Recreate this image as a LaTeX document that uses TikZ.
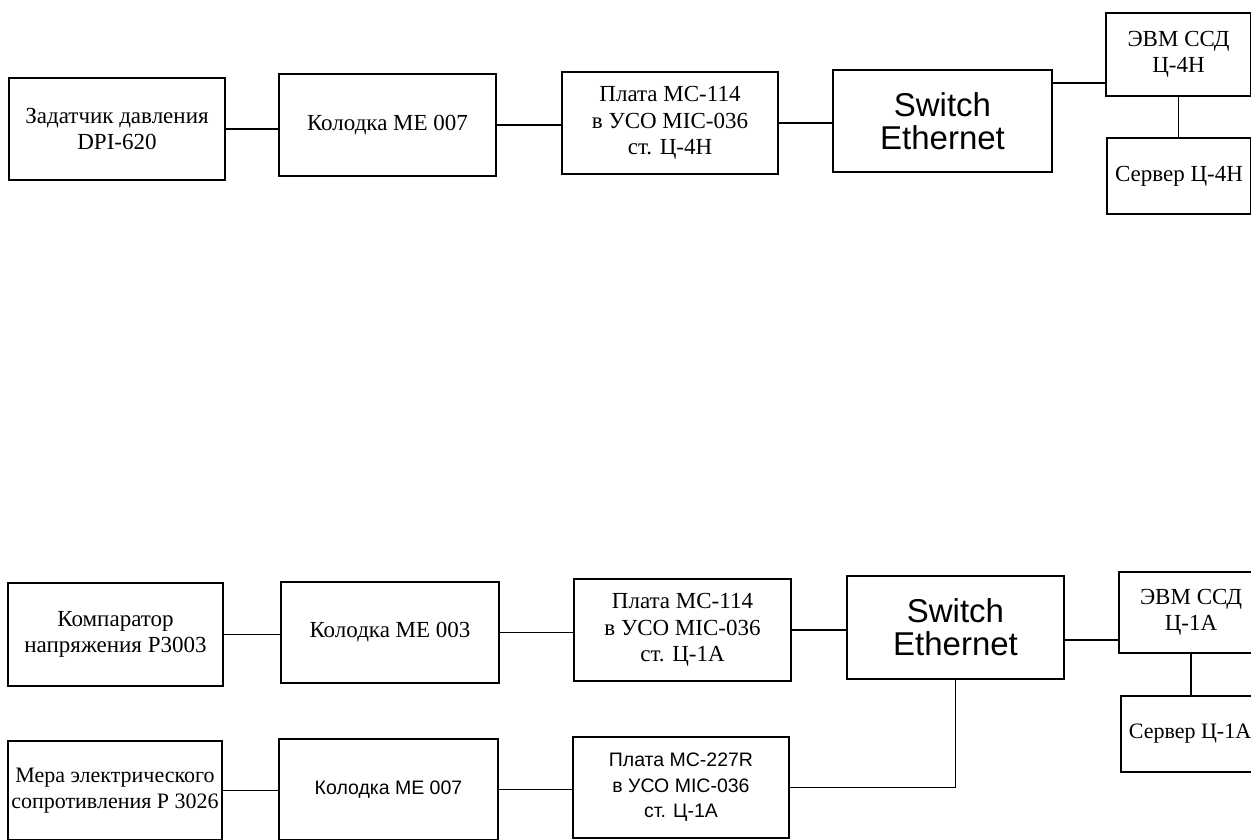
\documentclass[tikz,border=0pt]{standalone}
\usepackage{fontspec}
\setmainfont{Liberation Serif}
\setsansfont{Liberation Sans}
\usetikzlibrary{positioning}

\begin{document}
\begin{tikzpicture}[x=1pt,y=-1pt,
    bx/.style={draw,line width=1.3pt,inner sep=0pt,align=center,
      minimum width=217pt,minimum height=102pt,font=\fontsize{23}{26.5}\selectfont},
    bxs/.style={bx,font=\sffamily\fontsize{19.5}{25.5}\selectfont},
    sw/.style={bx,font=\sffamily\fontsize{33}{33}\selectfont},
    ln/.style={line width=1.3pt}]
\useasboundingbox (0,0) rectangle (1251,839);
% stand C-4N
\path node[bx,minimum width=216pt] (zad) at (117,129) {Задатчик давления\\DPI-620}
    node[bx] (kol1) at (387.5,125) {Колодка МЕ 007}
    node[bx,minimum width=216pt] (pl1) at (670,123) {Плата МС-114\\в УСО MIC-036\\ст. Ц-4Н}
    node[sw,minimum width=219pt] (sw1) at (942.5,121) {Switch\\Ethernet}
    node[bx,minimum width=145pt,minimum height=83pt] (evm1) at (1178.5,54.5) {ЭВМ ССД\\Ц-4Н}
    node[bx,minimum width=144pt,minimum height=76pt] (srv1) at (1179,176) {Сервер Ц-4Н};
\draw[ln] (zad.east) -- (zad.east -| kol1.west);
\draw[ln] (kol1.east) -- (kol1.east -| pl1.west);
\draw[ln] (pl1.east) -- (pl1.east -| sw1.west);
\draw[ln] ([yshift=-28.5pt]evm1.west) -- ([yshift=-28.5pt]evm1.west -| sw1.east);
\draw[ln] (evm1.south) -- (evm1.south |- srv1.north);
% stand C-1A
\path node[bx,minimum width=215pt,minimum height=103pt] (komp) at (115.5,634.5) {Компаратор\\напряжения Р3003}
    node[bx,minimum width=218pt,minimum height=101pt] (kol2) at (390,632.5) {Колодка МЕ 003}
    node[bx] (pl2) at (682.5,630) {Плата МС-114\\в УСО MIC-036\\ст. Ц-1А}
    node[sw,minimum height=103pt] (sw2) at (955.5,627.5) {Switch\\Ethernet}
    node[bx,minimum width=144pt,minimum height=81pt] (evm2) at (1191,612.5) {ЭВМ ССД\\Ц-1А}
    node[bx,minimum width=138pt,minimum height=76pt,font=\fontsize{22}{26}\selectfont] (srv2) at (1190,734) {Сервер Ц-1А}
    node[bx,minimum width=214pt,minimum height=99pt,font=\fontsize{22}{26}\selectfont] (mera) at (115,790.5) {Мера электрического\\сопротивления Р 3026}
    node[bxs,minimum width=219pt,minimum height=101pt] (kol3) at (388.5,789.5) {Колодка МЕ 007}
    node[bxs,minimum width=216pt,minimum height=101pt] (pl3) at (681,787.5) {Плата МС-227R\\в УСО MIC-036\\ст. Ц-1А};
\draw[ln] (komp.east) -- (komp.east -| kol2.west);
\draw[ln] (kol2.east) -- (kol2.east -| pl2.west);
\draw[ln] (pl2.east) -- (pl2.east -| sw2.west);
\draw[ln] ([yshift=-27.5pt]evm2.west) -- ([yshift=-27.5pt]evm2.west -| sw2.east);
\draw[ln] (evm2.south) -- (evm2.south |- srv2.north);
\draw[ln] (mera.east) -- (mera.east -| kol3.west);
\draw[ln] (kol3.east) -- (kol3.east -| pl3.west);
\draw[ln] (sw2.south) |- (pl3.east);
\end{tikzpicture}
\end{document}
